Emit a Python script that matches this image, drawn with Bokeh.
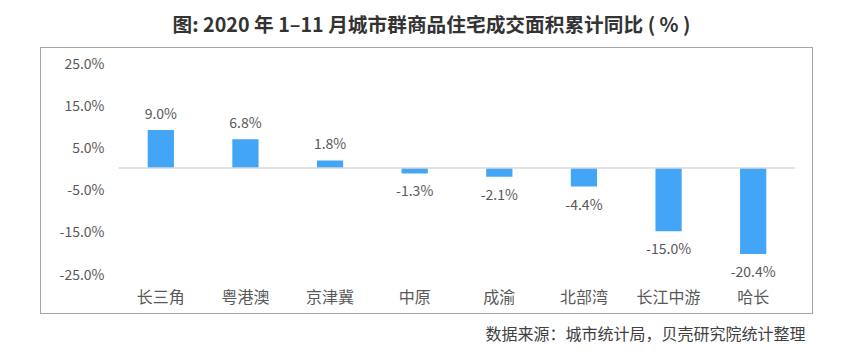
from bokeh.plotting import figure
from bokeh.models import (ColumnDataSource, FactorRange, Range1d, FixedTicker,
                          PrintfTickFormatter, Span, Title, InlineStyleSheet)
from bokeh.core.properties import value
from bokeh.embed import file_html
from bokeh.resources import INLINE

categories = ["长三角", "粤港澳", "京津冀", "中原", "成渝", "北部湾", "长江中游", "哈长"]
values = [9.0, 6.8, 1.8, -1.3, -2.1, -4.4, -15.0, -20.4]
y_ticks = [-25, -15, -5, 5, 15, 25]
title_text = "图: 2020 年 1–11 月城市群商品住宅成交面积累计同比 ( % )"
source_text = "数据来源：城市统计局，贝壳研究院统计整理"

FONT = "Noto Sans CJK SC"
W, H = 826, 359
FL, FR, FT, FB = 118, 795, 39, 290   # frame edges in canvas pixels
PX = 4.22                            # pixels per percentage point
ZERO = 167.5                         # pixel row of the zero line

src = ColumnDataSource(dict(
    cat=categories,
    val=values,
    lab=["%.1f%%" % v for v in values],
    off=[-17 if v >= 0 else 17 for v in values],
))

p = figure(width=W, height=H, output_backend="svg", toolbar_location=None,
           x_range=FactorRange(factors=categories, range_padding=0),
           y_range=Range1d(-(FB - ZERO) / PX, (ZERO - FT) / PX),
           min_border_left=FL, min_border_right=W - FR,
           min_border_top=FT, min_border_bottom=H - FB)
p.outline_line_color = None
p.xgrid.grid_line_color = None
p.ygrid.grid_line_color = None
p.background_fill_color = "white"
p.border_fill_color = "white"

p.vbar(x="cat", top="val", bottom=0, width=0.31, source=src,
       fill_color="#42A5F5", line_color=None)

p.add_layout(Span(location=0, dimension="width", line_color="#d9d9d9", line_width=1.5))

p.text(x="cat", y="val", text="lab", y_offset="off", source=src,
       text_align="center", text_baseline="middle",
       text_font=value(FONT), text_font_size="14px", text_color="#595959")

# axes
p.yaxis.ticker = FixedTicker(ticks=y_ticks)
p.yaxis.formatter = PrintfTickFormatter(format="%.1f%%")
for ax in (p.xaxis[0], p.yaxis[0]):
    ax.axis_line_color = None
    ax.major_tick_line_color = None
    ax.minor_tick_line_color = None
    ax.major_tick_out = 0
    ax.major_tick_in = 0
p.yaxis.major_label_standoff = 14
p.yaxis.major_label_text_font = FONT
p.yaxis.major_label_text_font_size = "14px"
p.yaxis.major_label_text_color = "#595959"
p.xaxis.major_label_standoff = -7
p.xaxis.major_label_text_font = FONT
p.xaxis.major_label_text_font_size = "16px"
p.xaxis.major_label_text_color = "#595959"

# outer gray box around the chart area
p.stylesheets = [InlineStyleSheet(css=(
    ":host::after{content:'';position:absolute;left:40px;top:47px;"
    "width:771px;height:265px;border:1px solid #a6a6a6;"
    "pointer-events:none;z-index:10;}"
))]

# title above; a blank spacer and the source note below
p.title = Title(text=title_text, align="left", offset=54, standoff=4,
                vertical_align="bottom", text_font=FONT, text_font_size="19.7px",
                text_font_style="bold", text_color="#333333")
p.add_layout(Title(text=" ", standoff=0, text_font=FONT,
                   text_font_size="7px", text_alpha=0), "below")
p.add_layout(Title(text=source_text, align="right", offset=-10, standoff=16,
                   vertical_align="bottom",
                   text_font=FONT, text_font_size="16px",
                   text_font_style="normal", text_color="#404040"), "below")

open("out.html", "w").write(file_html(p, INLINE))
